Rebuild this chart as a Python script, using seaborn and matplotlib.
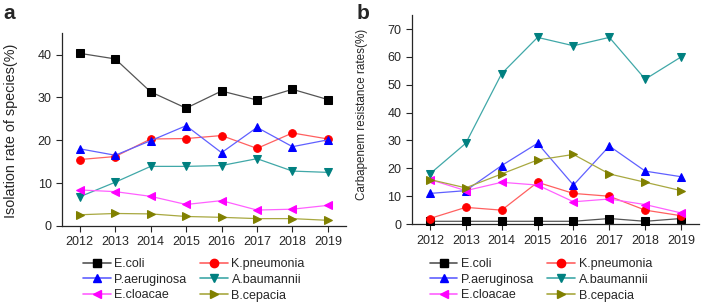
import pandas as pd
import matplotlib.pyplot as plt
import seaborn as sns
from matplotlib.lines import Line2D

years = [2012, 2013, 2014, 2015, 2016, 2017, 2018, 2019]
species = ["E.coli", "K.pneumonia", "P.aeruginosa", "A.baumannii", "E.cloacae", "B.cepacia"]

# panel a: isolation rate of species (%)
iso_ecoli = [40.3, 39.0, 31.3, 27.5, 31.5, 29.4, 31.9, 29.5]
iso_kpn = [15.5, 16.2, 20.3, 20.4, 21.1, 18.1, 21.7, 20.3]
iso_pae = [18.0, 16.5, 19.9, 23.4, 17.1, 23.0, 18.5, 20.1]
iso_aba = [6.8, 10.2, 13.9, 13.9, 14.1, 15.7, 12.8, 12.5]
iso_ecl = [8.4, 8.0, 6.9, 5.0, 5.9, 3.7, 3.9, 4.8]
iso_bce = [2.6, 2.9, 2.8, 2.2, 2.0, 1.7, 1.7, 1.3]

# panel b: carbapenem resistance rates (%)
res_ecoli = [1, 1, 1, 1, 1, 2, 1, 2]
res_kpn = [2, 6, 5, 15, 11, 10, 5, 3]
res_pae = [11, 12, 21, 29, 14, 28, 19, 17]
res_aba = [18, 29, 54, 67, 64, 67, 52, 60]
res_ecl = [16, 12, 15, 14, 8, 9, 7, 4]
res_bce = [16, 13, 18, 23, 25, 18, 15, 12]

marker_colors = ["#000000", "#ff0000", "#0000ff", "#008080", "#ff00ff", "#808000"]
line_colors = ["#555555", "#ff6060", "#6060ff", "#40a8a8", "#ff60ff", "#a8a840"]
markers = ["s", "o", "^", "v", "<", ">"]

sns.set_style("ticks")
plt.rcParams['font.family'] = ['Liberation Sans', 'DejaVu Sans']

fig = plt.figure(figsize=(7.09, 3.02), dpi=100)
ax1 = fig.add_axes([0.0875, 0.252, 0.40, 0.638])
ax2 = fig.add_axes([0.581, 0.258, 0.405, 0.692])


def draw(ax, series, ylim, yticks, ylabel, label_size, label_xy, legend_x):
    for i, vals in enumerate(series):
        df = pd.DataFrame({"Year": years, "Value": vals})
        sns.lineplot(data=df, x="Year", y="Value", ax=ax, color=line_colors[i],
                     linewidth=0.9, marker=markers[i], markersize=5.5,
                     markerfacecolor=marker_colors[i], markeredgecolor=marker_colors[i],
                     clip_on=False, zorder=3)
    ax.set_xlim(2011.5, 2019.5)
    ax.set_ylim(*ylim)
    ax.set_xticks(years)
    ax.set_yticks(yticks)
    ax.set_xlabel("")
    ax.set_ylabel(ylabel, fontsize=label_size)
    ax.yaxis.set_label_coords(*label_xy)
    ax.tick_params(labelsize=9, length=4, width=0.8, direction="out")
    for s in ["left", "bottom"]:
        ax.spines[s].set_linewidth(0.9)
    sns.despine(ax=ax)
    # legend filled row by row: reorder for column-major layout
    order = [0, 2, 4, 1, 3, 5]
    handles = [Line2D([0], [0], color=line_colors[i], lw=1.2, marker=markers[i],
                      markersize=6, markerfacecolor=marker_colors[i],
                      markeredgecolor=marker_colors[i]) for i in order]
    labels = [species[i] for i in order]
    fig.legend(handles, labels, ncol=2, loc="upper left",
               bbox_to_anchor=(legend_x, 1 - 258 / 302), frameon=False, fontsize=9,
               handlelength=2.2, handletextpad=0.3, columnspacing=1.1,
               labelspacing=0.3, borderpad=0, borderaxespad=0)


draw(ax1, [iso_ecoli, iso_kpn, iso_pae, iso_aba, iso_ecl, iso_bce],
     (0, 45), [0, 10, 20, 30, 40], "Isolation rate of species(%)",
     10.4, (-0.155, 0.493), 83 / 709)
draw(ax2, [res_ecoli, res_kpn, res_pae, res_aba, res_ecl, res_bce],
     (0, 75), [0, 10, 20, 30, 40, 50, 60, 70], "Carbapenem resistance rates(%)",
     8.4, (-0.153, 0.526), 430 / 709)

fig.text(0.005, 0.955, "a", fontsize=15, fontweight="bold", va="center")
fig.text(0.503, 0.955, "b", fontsize=15, fontweight="bold", va="center")

fig.savefig("out.png", dpi=100)
